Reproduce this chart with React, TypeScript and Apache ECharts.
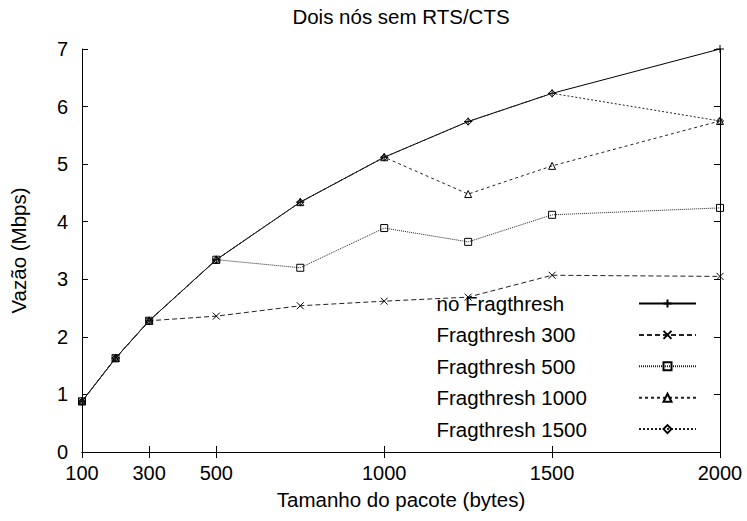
import React, { useEffect, useRef } from "react";
import * as echarts from "echarts";

const packetSizes = [100, 200, 300, 500, 750, 1000, 1250, 1500, 2000];
const noFrag = [0.88, 1.63, 2.28, 3.34, 4.34, 5.12, 5.74, 6.23, 7.0];
const frag300 = [0.88, 1.63, 2.28, 2.36, 2.54, 2.62, 2.69, 3.07, 3.05];
const frag500 = [0.88, 1.63, 2.28, 3.34, 3.2, 3.89, 3.65, 4.12, 4.24];
const frag1000 = [0.88, 1.63, 2.28, 3.34, 4.34, 5.12, 4.48, 4.97, 5.75];
const frag1500 = [0.88, 1.63, 2.28, 3.34, 4.34, 5.12, 5.74, 6.23, 5.75];
const seriesNames = ["no Fragthresh", "Fragthresh 300", "Fragthresh 500", "Fragthresh 1000", "Fragthresh 1500"];
const xTicks = [100, 300, 500, 1000, 1500, 2000];

const FONT = "'Liberation Sans', Arial, Helvetica, sans-serif";

export default function App() {
  const ref = useRef<HTMLDivElement>(null);
  useEffect(() => {
    if (!ref.current) return;
    const chart = echarts.init(ref.current, null, { renderer: "svg" });
    const pair = (ys: number[]) => packetSizes.map((x, i) => [x, ys[i]]);
    const styles = [
      { data: noFrag, symbol: "path://M0,5L10,5M5,0L5,10", size: 8, type: "solid" as any },
      { data: frag300, symbol: "path://M0,0L10,10M10,0L0,10", size: 7, type: [5, 3] },
      { data: frag500, symbol: "rect", size: 7, type: [1, 1] },
      { data: frag1000, symbol: "triangle", size: 7, type: [3, 3] },
      { data: frag1500, symbol: "diamond", size: 7, type: [2, 2] },
    ];
    const series = styles.map((s, i) => ({
      name: seriesNames[i],
      type: "line",
      data: pair(s.data),
      symbol: s.symbol,
      symbolSize: s.size,
      showSymbol: true,
      z: 2 + i,
      itemStyle: { color: "rgba(0,0,0,0)", borderColor: "#000", borderWidth: 1 },
      lineStyle: { color: i === 0 ? "#000" : "#222", width: 1, type: s.type },
      emphasis: { disabled: true },
    }));
    const axisCommon = {
      axisLine: { show: true, lineStyle: { color: "#000", width: 1 } },
      splitLine: { show: false },
    };
    chart.setOption({
      animation: false,
      backgroundColor: "#fff",
      title: {
        text: "Dois nós sem RTS/CTS",
        left: 401,
        top: 6,
        padding: 0,
        textAlign: "center",
        textStyle: { fontFamily: FONT, fontSize: 20.5, fontWeight: "normal", color: "#000" },
      },
      grid: { left: 82, right: 27, top: 49, bottom: 69, containLabel: false },
      xAxis: [
        {
          type: "value",
          min: 100,
          max: 2000,
          position: "bottom",
          ...axisCommon,
          axisTick: { show: true, inside: true, length: 6, customValues: xTicks, lineStyle: { color: "#000" } },
          axisLabel: {
            customValues: xTicks,
            margin: 11,
            color: "#000",
            fontFamily: FONT,
            fontSize: 20,
            formatter: (v: number) => String(v),
          },
          name: "Tamanho do pacote (bytes)",
          nameLocation: "middle",
          nameGap: 37,
          nameTextStyle: { fontFamily: FONT, fontSize: 20.5, color: "#000" },
        },
        {
          type: "value",
          min: 100,
          max: 2000,
          position: "top",
          ...axisCommon,
          axisTick: { show: true, inside: true, length: 6, customValues: xTicks, lineStyle: { color: "#000" } },
          axisLabel: { show: false },
        },
      ],
      yAxis: [
        {
          type: "value",
          min: 0,
          max: 7,
          interval: 1,
          position: "left",
          ...axisCommon,
          axisTick: { show: true, inside: true, length: 6, lineStyle: { color: "#000" } },
          axisLabel: { margin: 14, color: "#000", fontFamily: FONT, fontSize: 20 },
          name: "Vazão (Mbps)",
          nameLocation: "middle",
          nameGap: 53,
          nameTextStyle: { fontFamily: FONT, fontSize: 20.5, color: "#000" },
        },
        {
          type: "value",
          min: 0,
          max: 7,
          interval: 1,
          position: "right",
          ...axisCommon,
          axisTick: { show: true, inside: true, length: 6, lineStyle: { color: "#000" } },
          axisLabel: { show: false },
        },
      ],
      legend: [
        {
          data: seriesNames,
          orient: "vertical",
          left: 426,
          top: 293,
          padding: 0,
          itemWidth: 1,
          itemHeight: 10,
          itemGap: 10.4,
          selectedMode: false,
          itemStyle: { opacity: 0 },
          lineStyle: { opacity: 0 },
          textStyle: { fontFamily: FONT, fontSize: 20.5, color: "#000", lineHeight: 20 },
        },
        {
          data: seriesNames,
          orient: "vertical",
          left: 638,
          top: 293,
          padding: 0,
          itemWidth: 57,
          itemHeight: 10,
          itemGap: 10.4,
          selectedMode: false,
          formatter: () => " ",
          textStyle: { fontFamily: FONT, fontSize: 20.5, color: "#000", lineHeight: 20 },
        },
      ],
      series,
    });
    return () => chart.dispose();
  }, []);
  return <div ref={ref} style={{ width: 747, height: 521, position: "absolute", left: 0, top: 0 }} />;
}
